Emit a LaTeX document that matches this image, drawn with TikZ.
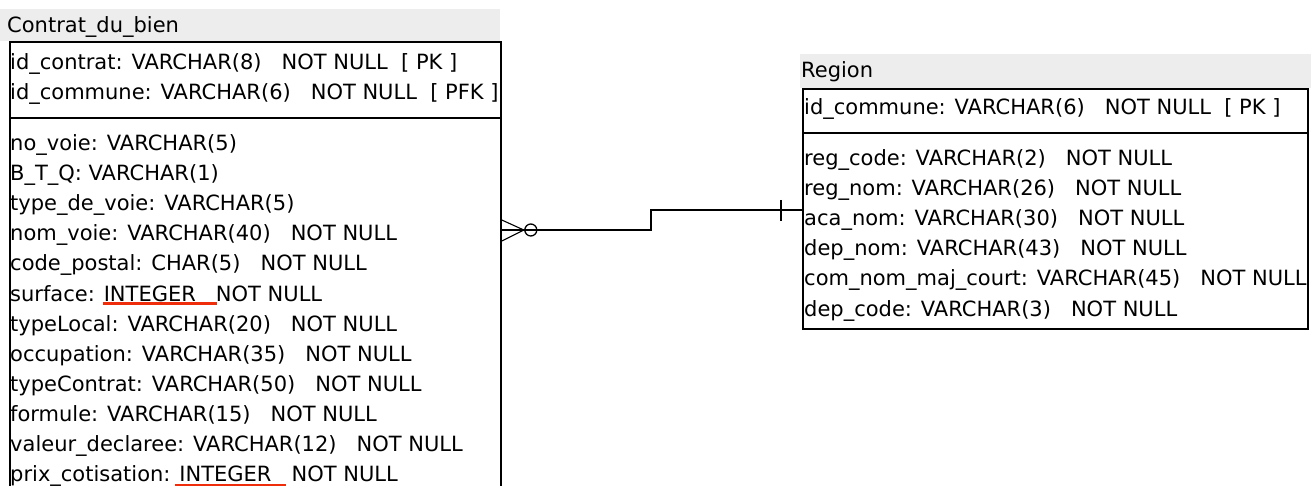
\documentclass[tikz,border=0pt]{standalone}
\usepackage{fontspec}
\setmainfont{DejaVu Sans}
\newfontfamily\fieldfont{DejaVu Sans}
\usetikzlibrary{calc}
\begin{document}
\begin{tikzpicture}[x=1pt,y=-1pt,
  fld/.style={anchor=base west, inner sep=0pt, font=\fieldfont\fontsize{21}{24}\selectfont},
  tbl/.style={draw=black, line width=1.8pt, fill=white, anchor=north west, inner sep=0pt},
  band/.style={fill=black!7, draw=none},
  conn/.style={draw=black, line width=1.8pt},
  redline/.style={draw={rgb,255:red,240;green,45;blue,10}, line width=3pt}
]
\useasboundingbox (0,0) rectangle (1311,486);
\fill[white] (0,0) rectangle (1311,486);
% ---- Contrat_du_bien
\fill[band] (0,9) rectangle (500,41);
\node[fld] (tA) at (7,33) {Contrat\_du\_bien};
\node[tbl, minimum width=491pt, minimum height=460pt] (contrat) at (9,41) {};
\draw[line width=1.8pt] (contrat.west |- 0,118) -- (contrat.east |- 0,118);
\node[fld] (a1) at (10,70) {id\_contrat: VARCHAR(8)\ \ \ NOT NULL\ \ [ PK ]};
\node[fld] (a2) at (10,100) {id\_commune: VARCHAR(6)\ \ \ NOT NULL\ \ [ PFK ]};
\node[fld] (b1) at (10,151) {no\_voie: VARCHAR(5)};
\node[fld] (b2) at (10,181) {B\_T\_Q: VARCHAR(1)};
\node[fld] (b3) at (10,211) {type\_de\_voie: VARCHAR(5)};
\node[fld] (b4) at (10,241) {nom\_voie: VARCHAR(40)\ \ \ NOT NULL};
\node[fld] (b5) at (10,271) {code\_postal: CHAR(5)\ \ \ NOT NULL};
\node[fld] (b6) at (10,301) {surface: INTEGER\ \ \ NOT NULL};
\node[fld] (b7) at (10,331) {typeLocal: VARCHAR(20)\ \ \ NOT NULL};
\node[fld] (b8) at (10,361) {occupation: VARCHAR(35)\ \ \ NOT NULL};
\node[fld] (b9) at (10,391) {typeContrat: VARCHAR(50)\ \ \ NOT NULL};
\node[fld] (b10) at (10,421) {formule: VARCHAR(15)\ \ \ NOT NULL};
\node[fld] (b11) at (10,451) {valeur\_declaree: VARCHAR(12)\ \ \ NOT NULL};
\node[fld] (b12) at (10,481) {prix\_cotisation: INTEGER\ \ \ NOT NULL};
\draw[redline] (103,303.5) -- (217,303.5);
\draw[redline] (175,485) -- (286,485);
% ---- Region
\fill[band] (800,54) rectangle (1311,88);
\node[fld] (tB) at (801,78) {Region};
\node[tbl, minimum width=505pt, minimum height=240pt] (region) at (802,88) {};
\draw[line width=1.8pt] (region.west |- 0,133) -- (region.east |- 0,133);
\node[fld] (r1) at (804,115) {id\_commune: VARCHAR(6)\ \ \ NOT NULL\ \ [ PK ]};
\node[fld] (r2) at (804,166) {reg\_code: VARCHAR(2)\ \ \ NOT NULL};
\node[fld] (r3) at (804,196) {reg\_nom: VARCHAR(26)\ \ \ NOT NULL};
\node[fld] (r4) at (804,226) {aca\_nom: VARCHAR(30)\ \ \ NOT NULL};
\node[fld] (r5) at (804,256) {dep\_nom: VARCHAR(43)\ \ \ NOT NULL};
\node[fld] (r6) at (804,286) {com\_nom\_maj\_court: VARCHAR(45)\ \ \ NOT NULL};
\node[fld] (r7) at (804,316) {dep\_code: VARCHAR(3)\ \ \ NOT NULL};
% ---- connector
\coordinate (s) at (contrat.east |- 0,230);
\coordinate (t) at (region.west |- 0,210);
\draw[conn] (s) -- (651,230) -- (651,210) -- (t);
\draw[line width=1.1pt] ($(s)+(0,-10)$) -- ($(s)+(22,0)$) -- ($(s)+(0,11)$);
\draw[line width=1.3pt] ($(s)+(29,0)$) circle (6pt);
\draw[conn] ($(t)+(-21,-10)$) -- ($(t)+(-21,11)$);
\end{tikzpicture}
\end{document}
